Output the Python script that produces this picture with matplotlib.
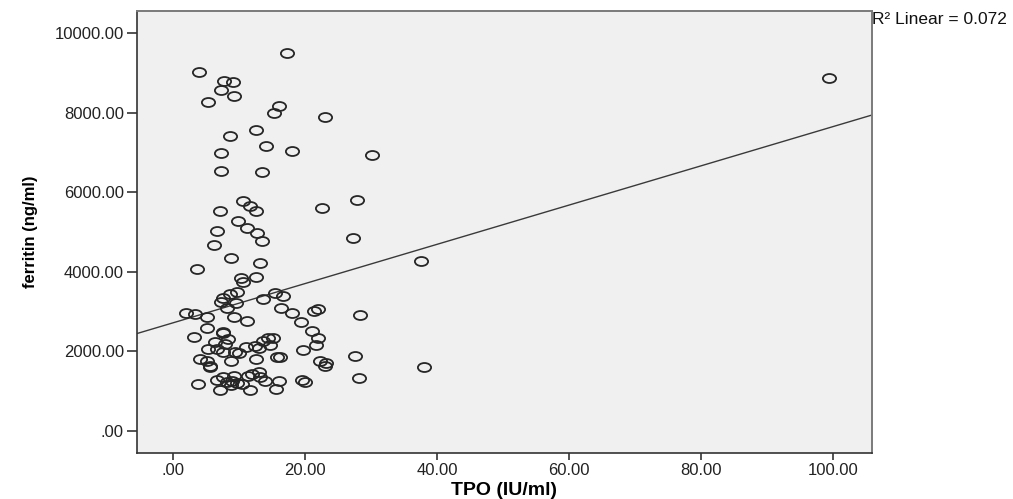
"""SPSS-style scatter: ferritin vs TPO with linear fit line."""
import matplotlib
matplotlib.use("Agg")
import matplotlib.pyplot as plt
from matplotlib.path import Path
from matplotlib.transforms import Affine2D

plt.rcParams["font.family"] = ["Liberation Sans", "DejaVu Sans"]

# values
tpo = [17.2, 3.9, 7.7, 9.1, 7.3, 9.2, 5.3, 16.1, 15.3, 23.0,
       12.5, 8.6, 14.1, 18.0, 30.1, 7.3, 7.2, 13.4, 10.5, 11.6,
       12.6, 7.1, 22.6, 27.8, 9.8, 6.7, 11.2, 12.7, 13.4, 6.2,
       27.2, 8.7, 13.1, 37.5, 3.6, 10.2, 10.6, 12.5, 15.4, 16.6,
       13.6, 9.6, 8.6, 7.6, 7.2, 9.5, 8.2, 1.9, 3.3, 5.1,
       9.2, 11.2, 16.4, 18.0, 19.3, 21.4, 22.0, 28.3, 5.1, 7.5,
       7.6, 3.2, 8.3, 6.3, 7.8, 5.2, 6.7, 7.6, 9.4, 10.0,
       11.0, 12.4, 13.0, 13.6, 14.4, 15.1, 14.7, 21.0, 22.0, 21.7,
       19.6, 4.1, 5.1, 5.5, 5.6, 8.7, 12.6, 15.7, 16.2, 22.2,
       23.2, 23.0, 27.5, 3.7, 6.7, 7.6, 8.1, 8.9, 9.6, 10.4,
       9.2, 11.4, 12.0, 13.0, 13.1, 13.9, 7.1, 8.7, 11.7, 16.1,
       15.6, 19.5, 19.9, 28.2, 38.0, 99.4]
ferritin = [9490, 9030, 8800, 8760, 8580, 8430, 8260, 8170, 8000, 7880,
            7570, 7410, 7170, 7040, 6940, 6990, 6530, 6500, 5790, 5660,
            5530, 5530, 5600, 5810, 5280, 5030, 5110, 4970, 4780, 4680,
            4840, 4340, 4210, 4260, 4080, 3850, 3740, 3870, 3460, 3390,
            3320, 3490, 3440, 3340, 3230, 3210, 3080, 2970, 2930, 2870,
            2870, 2760, 3080, 2960, 2740, 3020, 3070, 2920, 2580, 2500,
            2460, 2350, 2310, 2240, 2190, 2050, 2050, 1990, 1990, 1960,
            2110, 2140, 2080, 2260, 2330, 2340, 2160, 2510, 2340, 2160,
            2030, 1800, 1770, 1640, 1600, 1770, 1800, 1870, 1870, 1760,
            1720, 1640, 1890, 1180, 1290, 1350, 1240, 1260, 1200, 1170,
            1390, 1380, 1430, 1490, 1350, 1260, 1020, 1160, 1030, 1260,
            1060, 1290, 1230, 1340, 1610, 8880]

# fit line as drawn in the reference (SPSS linear fit)
fit_intercept = 2720
fit_slope = 49.3
r2_text = "R\u00b2 Linear = 0.072"

x_ticks = [0, 20, 40, 60, 80, 100]
y_ticks = [0, 2000, 4000, 6000, 8000, 10000]


def spss_label(v):
    s = f"{v:.2f}"
    return s.lstrip("0") if v == 0 else s


fig = plt.figure(figsize=(10.13, 4.99), dpi=100)
ax = fig.add_axes([0.1352, 0.0922, 0.7256, 0.8848])
ax.set_facecolor("#f0f0f0")

# open circles are a bit wider than tall in the original
ellipse = Path.unit_circle().transformed(Affine2D().scale(1.0, 0.68))
ax.plot(tpo, ferritin, linestyle="none", marker=ellipse, markersize=9.5,
        markerfacecolor="none", markeredgecolor="#262626", markeredgewidth=1.3,
        zorder=3)

ax.axline((0, fit_intercept), slope=fit_slope, color="#3a3a3a", lw=1.0, zorder=2)

ax.set_xlim(-5.5, 105.9)
ax.set_ylim(-553, 10543)
ax.set_xticks(x_ticks)
ax.set_yticks(y_ticks)
ax.set_xticklabels([spss_label(v) for v in x_ticks])
ax.set_yticklabels([spss_label(v) for v in y_ticks])
ax.tick_params(axis="y", length=7.5, width=1.1, pad=2, labelsize=12, colors="#222222")
ax.tick_params(axis="x", length=5, width=1.1, pad=2, labelsize=12, colors="#222222")

for side in ("left", "bottom"):
    ax.spines[side].set_color("#333333")
    ax.spines[side].set_linewidth(1.2)
for side in ("top", "right"):
    ax.spines[side].set_color("#7a7a7a")
    ax.spines[side].set_linewidth(1.4)

ax.set_xlabel("TPO (IU/ml)", fontsize=14, fontweight="bold", labelpad=3)
ax.set_ylabel("ferritin (ng/ml)", fontsize=12, fontweight="bold", labelpad=12)

ax.text(1.0, 0.982, r2_text, transform=ax.transAxes, ha="left", va="center",
        fontsize=12.5, color="#111111")

fig.savefig("out.png", dpi=100)
